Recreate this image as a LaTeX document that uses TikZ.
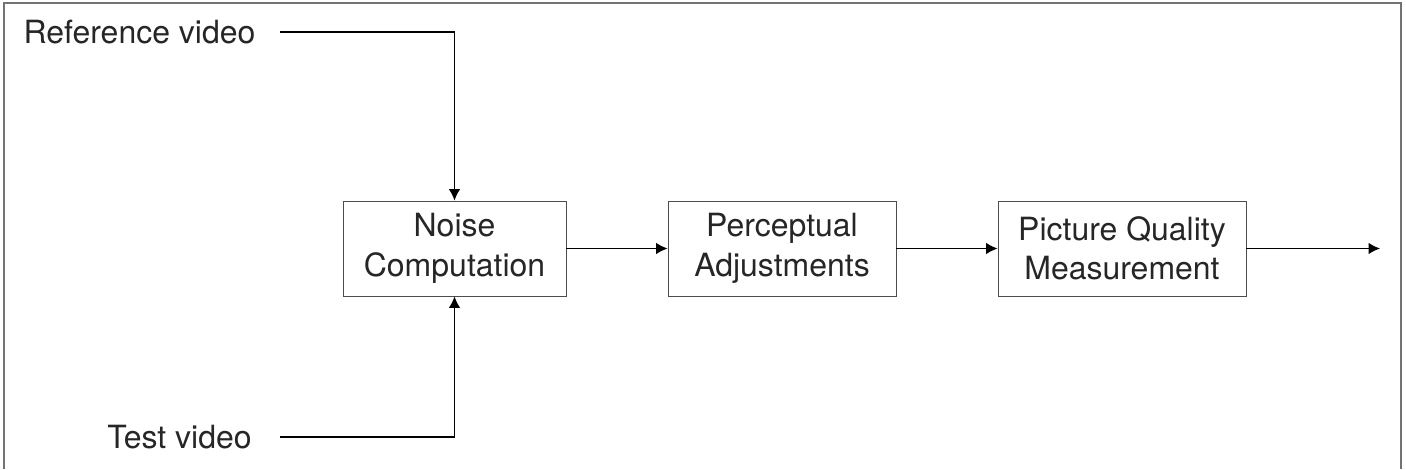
\documentclass[tikz,border=0pt]{standalone}
\usepackage{fontspec}
\setmainfont{TeX Gyre Heros}
\usepackage{tikz}
\usetikzlibrary{arrows.meta}

\begin{document}
\begin{tikzpicture}[>={Latex[length=2.3mm,width=2.3mm]},line width=0.6pt,
	every node/.style={font=\fontsize{18.2}{22.5}\selectfont,text=black!85},
	block/.style={draw=black!70,line width=0.5pt,minimum height=1.9cm,align=center,inner sep=0pt}]
	\useasboundingbox (0,0) rectangle (28.12,9.38);
	\draw[black!55,line width=1pt] (0.08,0) -- (0.08,9.32) -- (28.02,9.32) -- (28.02,0);
	\node[block,minimum width=4.46cm] (noise) at (9.09,4.41) {Noise\\Computation};
	\node[block,minimum width=4.56cm] (percep) at (15.64,4.41) {Perceptual\\Adjustments};
	\node[block,minimum width=4.96cm] (pqm) at (22.44,4.41) {Picture Quality\\Measurement};
	\node (ref) at (2.79,8.74) {Reference video};
	\node (test) at (3.59,0.64) {Test video};
	\coordinate (out) at (27.6,4.41);
	\draw[->] (5.6,8.74) -| (noise.north);
	\draw[->] (5.6,0.64) -| (noise.south);
	\draw[->] (noise) -- (percep);
	\draw[->] (percep) -- (pqm);
	\draw[->] (pqm) -- (out);
\end{tikzpicture}
\end{document}
